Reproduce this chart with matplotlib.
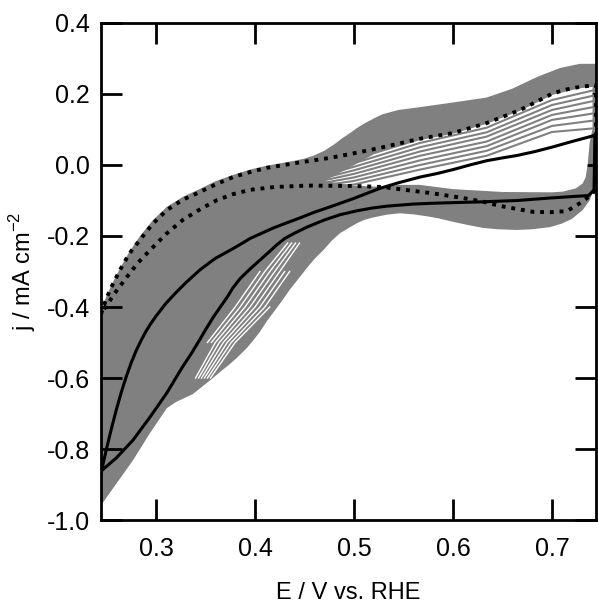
import numpy as np
import matplotlib
matplotlib.use("Agg")
import matplotlib.pyplot as plt

plt.rcParams['font.family'] = ['Liberation Sans', 'DejaVu Sans']
plt.rcParams['axes.unicode_minus'] = False

# outer envelope of all the grey cycles (top edge left->right, then bottom edge right->left)
band_top_E = [0.2445, 0.25, 0.2565, 0.264, 0.273, 0.284, 0.297, 0.311, 0.327, 0.344, 0.36,
              0.378, 0.395, 0.412, 0.44, 0.45, 0.459, 0.47, 0.48, 0.488, 0.496, 0.503, 0.51,
              0.52, 0.529, 0.545, 0.5667, 0.6, 0.634, 0.66, 0.685, 0.708, 0.728, 0.745]
band_top_j = [-0.41, -0.37, -0.33, -0.29, -0.245, -0.2, -0.155, -0.118, -0.09, -0.068, -0.046,
              -0.028, -0.013, -0.002, 0.012, 0.018, 0.026, 0.04, 0.058, 0.075, 0.09, 0.104, 0.116,
              0.131, 0.143, 0.155, 0.163, 0.176, 0.19, 0.215, 0.248, 0.273, 0.285, 0.285]
band_bot_E = [0.745, 0.742, 0.738, 0.731, 0.72, 0.71, 0.698, 0.68, 0.665, 0.645, 0.63, 0.615,
              0.6, 0.585, 0.575, 0.56, 0.5465, 0.533, 0.519, 0.51, 0.503, 0.495, 0.486, 0.478,
              0.469, 0.46, 0.4525, 0.444, 0.435, 0.428, 0.42, 0.412, 0.405, 0.398, 0.392, 0.383,
              0.375, 0.366, 0.3576, 0.3374, 0.32, 0.311, 0.294, 0.277, 0.2454, 0.2445]
band_bot_j = [-0.05, -0.07, -0.1, -0.127, -0.152, -0.165, -0.175, -0.181, -0.183, -0.181, -0.177,
              -0.169, -0.16, -0.15, -0.145, -0.139, -0.136, -0.14, -0.148, -0.155, -0.164, -0.177,
              -0.192, -0.212, -0.24, -0.265, -0.29, -0.32, -0.352, -0.38, -0.41, -0.44, -0.47,
              -0.495, -0.515, -0.54, -0.56, -0.58, -0.6, -0.645, -0.668, -0.685, -0.755, -0.831,
              -0.955, -0.96]

# open (white) area: spread of the cycles at the upper right + inner loop
open_E = [0.47, 0.495, 0.52, 0.5667, 0.6, 0.634, 0.668, 0.701, 0.728, 0.741, 0.741, 0.74,
          0.738, 0.736, 0.734, 0.731, 0.724, 0.711, 0.7, 0.65, 0.6, 0.5667, 0.545, 0.53, 0.5]
open_j = [-0.045, -0.008, 0.03, 0.07, 0.088, 0.116, 0.153, 0.198, 0.216, 0.22, 0.1, 0.09,
          0.06, 0.0, -0.035, -0.052, -0.066, -0.075, -0.077, -0.076, -0.068, -0.056, -0.056,
          -0.062, -0.058]

# grey cycles fanning out in the upper right
fan_E = [0.45, 0.5, 0.5667, 0.634, 0.70, 0.7414]
fan_j = [
    [-0.04, 0.005, 0.062, 0.105, 0.183, 0.21],
    [-0.045, -0.005, 0.05, 0.092, 0.169, 0.195],
    [-0.05, -0.015, 0.038, 0.08, 0.155, 0.18],
    [-0.055, -0.025, 0.026, 0.066, 0.141, 0.163],
    [-0.06, -0.035, 0.013, 0.053, 0.127, 0.145],
    [-0.065, -0.045, 0.0, 0.04, 0.11, 0.125],
    [-0.07, -0.055, -0.013, 0.026, 0.093, 0.103],
]

# gaps between grey cycles on the lower left (E at each j level)
gap_j = [-0.60, -0.50, -0.40, -0.30, -0.22]
gap_E = [
    [np.nan, 0.352, 0.38, 0.405, np.nan],
    [np.nan, 0.356, 0.385, 0.41, 0.433],
    [0.34, 0.36, 0.39, 0.415, 0.437],
    [0.343, 0.364, 0.395, 0.42, 0.441],
    [0.346, 0.368, 0.4, 0.425, 0.445],
    [0.349, 0.372, 0.405, 0.43, np.nan],
    [0.352, 0.376, 0.41, 0.435, np.nan],
    [0.355, 0.38, 0.415, np.nan, np.nan],
]

# solid black CV
solid_E = [0.2445, 0.25, 0.255, 0.26, 0.265, 0.27, 0.275, 0.28, 0.285, 0.29, 0.295, 0.30,
           0.31, 0.32, 0.33, 0.345, 0.36, 0.375, 0.385, 0.395, 0.407, 0.418, 0.432, 0.4455,
           0.46, 0.4758, 0.488, 0.5, 0.513, 0.526, 0.545, 0.5667, 0.584, 0.6, 0.617, 0.634, 0.65,
           0.665, 0.683, 0.701, 0.72, 0.7414, 0.7434,
           0.7425, 0.737, 0.72, 0.698, 0.665, 0.627, 0.6, 0.577, 0.56, 0.5465, 0.533, 0.519,
           0.503, 0.486, 0.47, 0.4525, 0.44, 0.43, 0.422, 0.415, 0.405, 0.395, 0.385, 0.378,
           0.372, 0.365, 0.3576, 0.351, 0.344, 0.336, 0.327, 0.319, 0.311, 0.294, 0.2768, 0.26,
           0.2434]
solid_j = [-0.868, -0.80, -0.743, -0.689, -0.64, -0.596, -0.557, -0.523, -0.494, -0.468, -0.446,
           -0.426, -0.39, -0.36, -0.332, -0.294, -0.263, -0.24, -0.224, -0.207, -0.192, -0.178,
           -0.163, -0.149, -0.133, -0.118, -0.106, -0.094, -0.08, -0.066, -0.05, -0.034, -0.024,
           -0.013, 0.0, 0.012, 0.02, 0.027, 0.038, 0.051, 0.066, 0.082, 0.085,
           -0.07, -0.086, -0.089, -0.093, -0.1, -0.104, -0.106, -0.108, -0.11, -0.113, -0.116,
           -0.121, -0.129, -0.14, -0.155, -0.175, -0.192, -0.207, -0.225, -0.243, -0.268, -0.293,
           -0.32, -0.345, -0.372, -0.4, -0.43, -0.46, -0.493, -0.53, -0.568, -0.605, -0.642,
           -0.71, -0.775, -0.825, -0.865]

# dotted black CV
dot_E = [0.2445, 0.25, 0.2565, 0.2636, 0.273, 0.2838, 0.297, 0.311, 0.327, 0.3444, 0.36,
         0.3778, 0.395, 0.412, 0.4424, 0.4758, 0.5, 0.526, 0.5667, 0.6, 0.634, 0.668, 0.701,
         0.715, 0.728, 0.7445,
         0.7445, 0.737, 0.728, 0.715, 0.698, 0.681, 0.647, 0.63, 0.61, 0.58, 0.56, 0.529, 0.5,
         0.4525, 0.42, 0.395, 0.378, 0.3616, 0.345, 0.327, 0.31, 0.294, 0.282, 0.2707, 0.26,
         0.2505, 0.2455]
dot_j = [-0.42, -0.375, -0.335, -0.296, -0.25, -0.211, -0.165, -0.127, -0.098, -0.076, -0.055,
         -0.034, -0.02, -0.008, 0.006, 0.02, 0.033, 0.048, 0.074, 0.09, 0.118, 0.155, 0.202,
         0.213, 0.22, 0.225,
         -0.07, -0.09, -0.108, -0.13, -0.133, -0.132, -0.115, -0.103, -0.093, -0.08, -0.073,
         -0.062, -0.059, -0.058, -0.062, -0.07, -0.082, -0.099, -0.124, -0.155, -0.195, -0.24,
         -0.275, -0.315, -0.355, -0.394, -0.415]

grey = '#808080'

fig = plt.figure(figsize=(5.98, 6.08), dpi=100)
ax = fig.add_axes([0.1689, 0.1447, 0.8278, 0.8175])

ax.fill(band_top_E + band_bot_E, band_top_j + band_bot_j, color=grey, lw=0, zorder=1)
ax.fill(open_E, open_j, color='white', lw=0, zorder=2)
for row in fan_j:
    ax.plot(fan_E, row, color=grey, lw=1.5, zorder=3)
for row in gap_E:
    ax.plot(row, gap_j, color='white', lw=1.0, zorder=3)

ax.plot(solid_E, solid_j, color='black', lw=2.2, zorder=5)
ax.plot(dot_E, dot_j, color='black', lw=2.8, linestyle=(0, (1, 1.5)),
        dash_capstyle='butt', zorder=5)

ax.set_xlim(0.2445, 0.7445)
ax.set_ylim(-1.0, 0.4)
ax.set_xticks([0.3, 0.4, 0.5, 0.6, 0.7])
ax.set_yticks([0.4, 0.2, 0.0, -0.2, -0.4, -0.6, -0.8, -1.0])
ax.xaxis.set_major_formatter(matplotlib.ticker.FormatStrFormatter('%.1f'))
ax.yaxis.set_major_formatter(matplotlib.ticker.FormatStrFormatter('%.1f'))
ax.tick_params(direction='in', length=15, width=2, top=True, right=True,
               labelsize=18, pad=8)
ax.tick_params(axis='x', pad=12)
for s in ax.spines.values():
    s.set_linewidth(2)

ax.set_xlabel('E / V vs. RHE', fontsize=17, labelpad=15)
ax.set_ylabel('j / mA cm$^{\\mathregular{-2}}$', fontsize=17, labelpad=6)

fig.savefig('out.png', dpi=100)
